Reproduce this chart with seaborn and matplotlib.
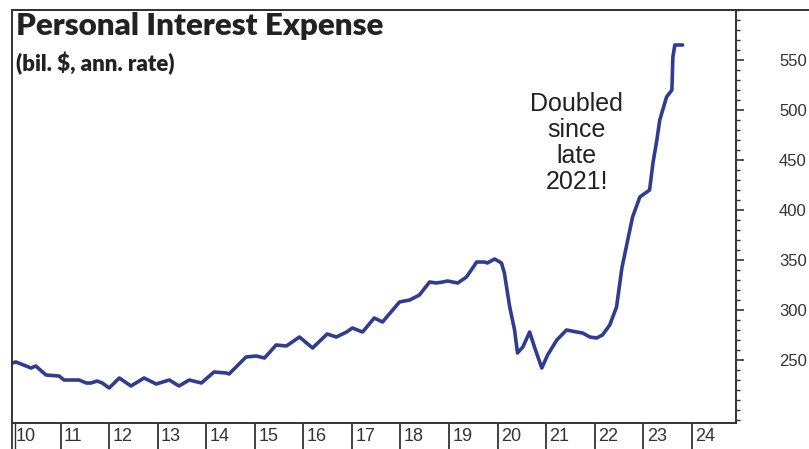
import numpy as np
import pandas as pd
import matplotlib.pyplot as plt
import matplotlib.lines as mlines
from matplotlib.ticker import MultipleLocator
import seaborn as sns

# personal interest expense, bil. $ ann. rate
dates = [2010.00, 2010.08, 2010.29, 2010.39, 2010.49, 2010.70, 2010.97, 2011.07,
         2011.38, 2011.53, 2011.63, 2011.75, 2011.86, 2012.00, 2012.21, 2012.45,
         2012.72, 2012.97, 2013.24, 2013.44, 2013.65, 2013.90, 2014.16, 2014.41,
         2014.47, 2014.82, 2015.03, 2015.20, 2015.44, 2015.65, 2015.92, 2016.19,
         2016.49, 2016.68, 2016.89, 2017.01, 2017.22, 2017.46, 2017.63, 2017.98,
         2018.19, 2018.39, 2018.60, 2018.74, 2018.87, 2018.97, 2019.18, 2019.36,
         2019.57, 2019.73, 2019.79, 2019.94, 2020.08, 2020.14, 2020.25, 2020.35,
         2020.41, 2020.52, 2020.66, 2020.76, 2020.91, 2021.03, 2021.22, 2021.42,
         2021.63, 2021.75, 2021.90, 2022.04, 2022.16, 2022.31, 2022.45, 2022.56,
         2022.68, 2022.78, 2022.93, 2023.13, 2023.20, 2023.28, 2023.34, 2023.48,
         2023.59, 2023.61, 2023.65, 2023.81]
expense = [247, 248, 244, 242, 244, 235, 234, 230,
           230, 227, 227, 229, 227, 222, 232, 224,
           232, 226, 230, 224, 230, 227, 238, 237,
           236, 253, 254, 252, 265, 264, 273, 262,
           276, 273, 278, 282, 278, 292, 288, 308,
           310, 315, 328, 327, 328, 329, 327, 333,
           348, 348, 347, 351, 347, 337, 303, 280,
           257, 263, 278, 263, 242, 255, 270, 280,
           278, 277, 273, 272, 275, 285, 303, 342,
           370, 393, 413, 420, 447, 470, 490, 513,
           520, 553, 565, 565]
years = list(range(2010, 2025))
year_labels = [str(y)[2:] for y in years]
value_ticks = [250, 300, 350, 400, 450, 500, 550]

df = pd.DataFrame({"date": dates, "expense": expense})

sns.set_style("white")
plt.rcParams["font.family"] = ["Liberation Sans", "DejaVu Sans"]

fig = plt.figure(figsize=(8.09, 4.49), dpi=100)
ax = fig.add_axes([12 / 809, 1 - 423 / 449, (736 - 12) / 809, (423 - 10) / 449])

frame = "#333333"
sns.lineplot(data=df, x="date", y="expense", ax=ax, color="#2e3d8f",
             linewidth=2.6, solid_joinstyle="round")

ax.set_xlim(2010, 2024.91)
ax.set_ylim(187, 600)
ax.set_xlabel("")
ax.set_ylabel("")

for s in ax.spines.values():
    s.set_color(frame)
    s.set_linewidth(1.4)
    s.set_visible(True)

# right-hand value axis
ax.yaxis.tick_right()
ax.set_yticks(value_ticks)
ax.yaxis.set_minor_locator(MultipleLocator(10))
ax.tick_params(axis="y", which="major", right=True, direction="out", length=6,
               width=1.2, color=frame, pad=25, labelsize=12, labelcolor="#333333")
ax.tick_params(axis="y", which="minor", right=True, direction="out", length=3,
               width=1.0, color=frame)

# boxed year cells below the plot
ax.set_xticks(years)
ax.tick_params(axis="x", which="major", bottom=True, direction="out", length=20,
               width=1.3, color=frame, labelbottom=False)
trans = ax.get_xaxis_transform()
for yr, lab in zip(years, year_labels):
    ax.text(yr + 0.07, -0.013, lab, transform=trans, ha="left", va="top",
            fontsize=13, color="#333333")

# outer frame line along the top, and the double rule at the left
fig.add_artist(mlines.Line2D([12 / 809, 1], [1 - 10 / 449, 1 - 10 / 449],
                             color=frame, linewidth=1.4))
fig.add_artist(mlines.Line2D([14.5 / 809, 14.5 / 809], [0, 1 - 423 / 449],
                             color=frame, linewidth=1.0))

fig.text(16 / 809, 1 - 12 / 449, "Personal Interest Expense", ha="left", va="top",
         fontsize=22.5, fontweight="heavy", color="#222222", family=["Lato", "DejaVu Sans"])
fig.text(16 / 809, 1 - 52 / 449, "(bil. $, ann. rate)", ha="left", va="top",
         fontsize=16, fontweight="heavy", color="#222222", family=["Lato", "DejaVu Sans"])

ax.text(2021.63, 467, "Doubled\nsince\nlate\n2021!", ha="center", va="center",
        fontsize=18, color="#222222", linespacing=1.12)

fig.savefig("out.png", dpi=100)
